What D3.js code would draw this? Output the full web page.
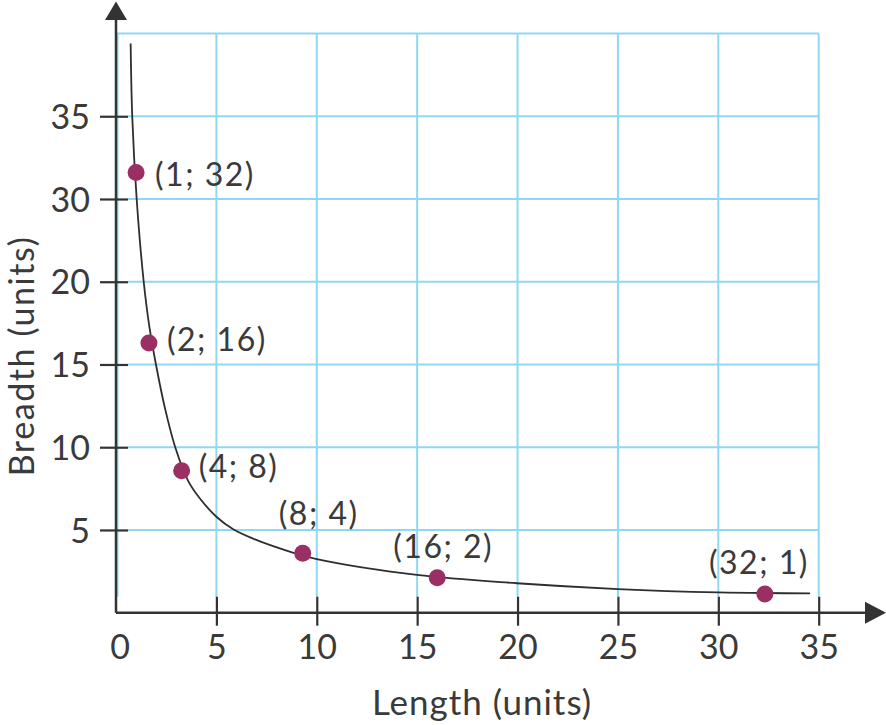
<!DOCTYPE html>
<html>
<head>
<meta charset="utf-8">
<script src="https://cdn.jsdelivr.net/npm/d3@7"></script>
<style>
  html, body { margin: 0; padding: 0; background: #fff; }
  svg { display: block; }
  text { font-family: Lato, "Open Sans", sans-serif; fill: #3a3a3a; }
</style>
</head>
<body>
<svg id="chart" width="886" height="725"></svg>
<script>
// ---------- data ----------
const xTickValues = [0, 5, 10, 15, 20, 25, 30, 35];
const xTickLabels = ["0", "5", "10", "15", "20", "25", "30", "35"];
const yTickValues = [5, 10, 15, 20, 25, 30];
const yTickLabels = ["5", "10", "15", "20", "30", "35"];

// plotted point positions (as drawn in the picture) and their labels
const pointX = [1.0, 1.64, 3.27, 9.3, 16.0, 32.32];
const pointY = [26.6, 16.3, 8.58, 3.59, 2.11, 1.13];
const pointLabels = ["(1; 32)", "(2; 16)", "(4; 8)", "(8; 4)", "(16; 2)", "(32; 1)"];

// traced curve
const curveX = [0.73, 0.81, 1.03, 1.38, 1.66, 1.99, 2.45, 2.95, 3.6, 4.18, 5.0, 5.84, 6.8, 8.92, 10.0, 14.99, 19.97, 25.0, 29.98, 34.57];
const curveY = [34.4, 29.97, 25.0, 20.0, 17.3, 15.0, 12.3, 10.0, 7.95, 6.9, 5.8, 5.04, 4.49, 3.59, 3.24, 2.28, 1.78, 1.43, 1.23, 1.17];

const xTitle = "Length (units)";
const yTitle = "Breadth (units)";

(function () {
// ---------- layout ----------
const mLeft = 116, mRight = 818.7, mTop = 33.5, mBottom = 612.7;
const gridColor = "#8fd8f3";
const axisColor = "#333333";
const pointColor = "#9a2f63";

// label placement (layout only): anchor, dx, dy (dy = digit centre offset)
const labelPlacement = [
  { anchor: "start", dx: 19, dy: 2 },
  { anchor: "start", dx: 18, dy: -3 },
  { anchor: "start", dx: 17, dy: -4 },
  { anchor: "middle", dx: 16, dy: -40 },
  { anchor: "middle", dx: 6, dy: -31 },
  { anchor: "middle", dx: -6, dy: -31.5 }
];

const svg = d3.select("#chart");

const x = d3.scaleLinear().domain([0, 35]).range([mLeft, mRight]);
const y = d3.scaleLinear().domain([0, 35]).range([mBottom, mTop]);

// ---------- grid ----------
const grid = svg.append("g");
grid.selectAll("line.v")
  .data(xTickValues)
  .join("line")
  .attr("x1", d => x(d) + (d === 0 ? 1.5 : 0))
  .attr("x2", d => x(d) + (d === 0 ? 1.5 : 0))
  .attr("y1", y(35))
  .attr("y2", mBottom - 16)
  .attr("stroke", gridColor)
  .attr("stroke-width", 2);
grid.selectAll("line.h")
  .data(yTickValues.concat([35]))
  .join("line")
  .attr("x1", d => d === 35 ? x(0) : x(0) + 12)
  .attr("x2", x(35))
  .attr("y1", d => y(d))
  .attr("y2", d => y(d))
  .attr("stroke", gridColor)
  .attr("stroke-width", 2);

// ---------- axes ----------
const xAxis = d3.axisBottom(x)
  .tickValues(xTickValues.filter(d => d !== 0))
  .tickFormat(d => xTickLabels[xTickValues.indexOf(d)])
  .tickSizeInner(13)
  .tickSizeOuter(0)
  .tickPadding(8);
const gx = svg.append("g")
  .attr("transform", `translate(0,${mBottom})`)
  .call(xAxis);
gx.select(".domain").remove();
gx.selectAll(".tick line").attr("y1", -16).attr("stroke", axisColor).attr("stroke-width", 2.2);
gx.selectAll(".tick text").attr("font-size", 34).attr("fill", "#3a3a3a").attr("font-family", "Lato").attr("dy", "0.75em");
// zero label
gx.append("text")
  .attr("x", x(0) + 4)
  .attr("y", 21)
  .attr("dy", "0.75em")
  .attr("text-anchor", "middle")
  .attr("font-size", 34)
  .attr("fill", "#3a3a3a")
  .text(xTickLabels[0]);

const yAxis = d3.axisLeft(y)
  .tickValues(yTickValues)
  .tickFormat((d, i) => yTickLabels[i])
  .tickSizeInner(16)
  .tickSizeOuter(0)
  .tickPadding(10);
const gy = svg.append("g")
  .attr("transform", `translate(${mLeft},0)`)
  .call(yAxis);
gy.select(".domain").remove();
gy.selectAll(".tick line").attr("x1", 12).attr("stroke", axisColor).attr("stroke-width", 2.2);
gy.selectAll(".tick text").attr("font-size", 34).attr("fill", "#3a3a3a").attr("font-family", "Lato").attr("dy", "0.36em");

// axis lines with arrows
svg.append("line")
  .attr("x1", x(0)).attr("x2", 868)
  .attr("y1", mBottom).attr("y2", mBottom)
  .attr("stroke", axisColor).attr("stroke-width", 2.5);
svg.append("path")
  .attr("d", `M865,${mBottom - 11}L886,${mBottom}L865,${mBottom + 11}Z`)
  .attr("fill", axisColor);
svg.append("line")
  .attr("x1", x(0)).attr("x2", x(0))
  .attr("y1", mBottom).attr("y2", 18)
  .attr("stroke", axisColor).attr("stroke-width", 2.5);
svg.append("path")
  .attr("d", `M${x(0) - 11},20L${x(0)},1.5L${x(0) + 11},20Z`)
  .attr("fill", axisColor);

// ---------- curve ----------
const curveData = curveX.map((d, i) => [d, curveY[i]]);
svg.append("path")
  .datum(curveData)
  .attr("fill", "none")
  .attr("stroke", "#2e2e2e")
  .attr("stroke-width", 1.8)
  .attr("d", d3.line().x(d => x(d[0])).y(d => y(d[1])).curve(d3.curveCatmullRom.alpha(0.5)));

// ---------- points ----------
const pts = pointX.map((d, i) => ({ x: d, y: pointY[i], label: pointLabels[i], p: labelPlacement[i] }));
svg.append("g").selectAll("circle")
  .data(pts)
  .join("circle")
  .attr("cx", d => x(d.x))
  .attr("cy", d => y(d.y))
  .attr("r", 8.5)
  .attr("fill", pointColor);

svg.append("g").selectAll("text")
  .data(pts)
  .join("text")
  .attr("x", d => x(d.x) + d.p.dx)
  .attr("y", d => y(d.y) + d.p.dy)
  .attr("dy", "0.36em")
  .attr("text-anchor", d => d.p.anchor)
  .attr("font-size", 32)
  .attr("letter-spacing", 1.5)
  .text(d => d.label);

// ---------- titles ----------
svg.append("text")
  .attr("x", 482)
  .attr("y", 715)
  .attr("text-anchor", "middle")
  .attr("font-size", 35)
  .attr("letter-spacing", 1)
  .text(xTitle);
svg.append("text")
  .attr("transform", "translate(34,356) rotate(-90)")
  .attr("text-anchor", "middle")
  .attr("font-size", 34)
  .attr("letter-spacing", 1.6)
  .text(yTitle);
})();
</script>
</body>
</html>
